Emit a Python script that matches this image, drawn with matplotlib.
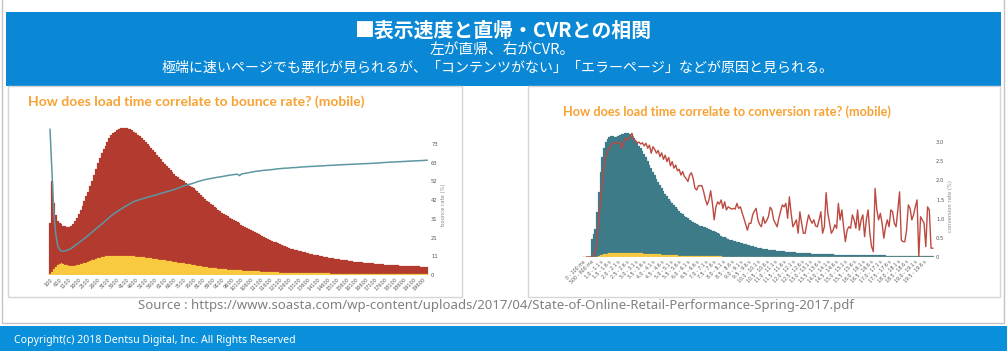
"""
表示速度と直帰・CVRとの相関 (スライド再現)
"""
import numpy as np
import matplotlib
matplotlib.use("Agg")
import matplotlib.pyplot as plt
from matplotlib.patches import Rectangle

W, H = 1007, 355
JP = ['Noto Sans CJK JP', 'DejaVu Sans']

# ---- 左: 直帰率 (100ms 刻み, 100 .. 19800 ms) ----
left_ms = list(range(100, 19900, 100))
left_sessions = [
    52, 94, 72, 60, 54, 52, 51, 49.5, 49, 48.5,
    48.5, 49.5, 51.5, 54, 57.5, 61.5, 65, 69, 74, 79,
    83.5, 89, 94.5, 100, 106, 112, 117.5, 122, 126, 129.5,
    133.5, 137, 140, 142, 143.5, 145, 146, 146.8, 147.2, 147.3,
    147, 146.5, 145.7, 144.7, 143.5, 142, 140.5, 139, 137.2, 135.5,
    133.5, 131.3, 129, 127, 125, 122.7, 120.5, 118, 115.8, 113.5,
    111.3, 109, 106.8, 104.7, 102.8, 101, 99.3, 97.8, 96.4, 95,
    93.8, 92.5, 91, 89.5, 88.3, 87, 85.5, 84, 82, 80,
    78, 76, 74.5, 73, 71.5, 70, 68.5, 67, 65.5, 64,
    62.5, 61.3, 60, 58.8, 57.5, 56.3, 55.2, 54, 52.8, 51.7,
    50.5, 49.3, 48.2, 47, 46, 44.8, 43.8, 42.7, 41.7, 40.7,
    39.8, 38.8, 37.9, 37, 36, 35.2, 34.2, 33.4, 32.6, 31.8,
    31, 30.2, 29.4, 28.6, 27.8, 27, 26.4, 25.8, 25.3, 24.8,
    24.3, 23.8, 23.3, 22.8, 22.3, 21.8, 21.4, 21, 20.5, 20.1,
    19.6, 19.2, 18.7, 18.3, 18, 17.7, 17.4, 17.1, 16.8, 16.5,
    16.2, 15.8, 15.5, 15.2, 15, 14.7, 14.4, 14.1, 13.8, 13.5,
    13.3, 13.1, 12.9, 12.7, 12.5, 12.3, 12.1, 11.9, 11.7, 11.6,
    11.4, 11.2, 11, 10.8, 10.6, 10.4, 10.2, 10, 9.9, 9.8,
    9.7, 9.7, 9.6, 9.5, 9.5, 9.4, 9.3, 9.2, 9.1, 9,
    8.9, 8.8, 8.7, 8.6, 8.5, 8.5, 8.4, 8.3,
]
left_bounced = [
    1, 3, 6, 8, 10, 11.5, 11.7, 11, 10.3, 9.8,
    9.5, 9.3, 9.3, 9.5, 9.8, 10.2, 10.6, 11.2, 11.8, 12.5,
    13.2, 14, 14.8, 15.5, 16.2, 16.8, 17.4, 17.9, 18.3, 18.7,
    19, 19.2, 19.3, 19.4, 19.4, 19.4, 19.4, 19.3, 19.3, 19.2,
    19.1, 19, 18.9, 18.7, 18.6, 18.4, 18.2, 18, 17.8, 17.6,
    17.4, 17.1, 16.9, 16.6, 16.4, 16.1, 15.8, 15.5, 15.2, 14.9,
    14.6, 14.3, 14, 13.7, 13.4, 13.1, 12.8, 12.5, 12.2, 11.9,
    11.6, 11.3, 11, 10.7, 10.4, 10.1, 9.8, 9.4, 9, 8.7,
    8.4, 8.1, 7.8, 7.5, 7.2, 7, 6.8, 6.6, 6.4, 6.2,
    6, 5.8, 5.6, 5.4, 5.3, 5.1, 5, 4.9, 4.8, 4.7,
    4.6, 4.4, 4.3, 4.2, 4.1, 4, 3.9, 3.8, 3.7, 3.6,
    3.5, 3.4, 3.3, 3.2, 3.1, 3, 2.9, 2.8, 2.7, 2.6,
    2.5, 2.5, 2.4, 2.4, 2.3, 2.3, 2.2, 2.2, 2.1, 2.1,
    2.0, 2.0, 1.9, 1.9, 1.9, 1.8, 1.8, 1.8, 1.8, 1.7,
    1.7, 1.7, 1.7, 1.6, 1.6, 1.6, 1.6, 1.5, 1.5, 1.5,
    1.5, 1.4, 1.4, 1.4, 1.4, 1.3, 1.3, 1.3, 1.3, 1.2,
    1.2, 1.2, 1.2, 1.2, 1.1, 1.1, 1.1, 1.1, 1.1, 1.0,
    1.0, 1.0, 1.0, 1.0, 1.0, 0.9, 0.9, 0.9, 0.9, 0.9,
    0.9, 0.9, 0.8, 0.8, 0.8, 0.8, 0.8, 0.8, 0.8, 0.8,
    0.7, 0.7, 0.7, 0.7, 0.7, 0.7, 0.7, 0.7,
]
bounce_rate = [
    81.5, 58, 35, 23, 16.5, 14.2, 13.4, 13.3, 13.5, 13.9,
    14.3, 14.8, 15.6, 16.5, 17.2, 17.9, 18.8, 19.6, 20.4, 21.3,
    22.2, 23.1, 24.0, 24.9, 25.8, 26.7, 27.6, 28.5, 29.4, 30.4,
    31.3, 32.2, 33.1, 34.0, 34.7, 35.4, 36.1, 36.8, 37.5, 38.2,
    38.8, 39.4, 40.0, 40.6, 41.1, 41.5, 41.9, 42.2, 42.6, 42.9,
    43.2, 43.5, 43.8, 44.1, 44.4, 44.7, 45.0, 45.3, 45.7, 46.0,
    46.3, 46.6, 46.9, 47.2, 47.5, 47.9, 48.3, 48.7, 49.1, 49.5,
    49.9, 50.2, 50.5, 50.8, 51.1, 51.4, 51.8, 52.2, 52.5, 52.8,
    53.1, 53.4, 53.6, 53.8, 54.0, 54.2, 54.4, 54.6, 54.8, 54.9,
    55.1, 55.3, 55.5, 55.7, 55.9, 56.0, 56.2, 56.3, 56.4, 55.6,
    56.5, 56.7, 56.9, 57.1, 57.3, 57.5, 57.7, 57.9, 58.1, 58.2,
    58.3, 58.5, 58.6, 58.7, 58.8, 58.9, 59.0, 59.1, 59.3, 59.4,
    59.5, 59.6, 59.7, 59.8, 59.8, 59.9, 60.0, 60.1, 60.1, 60.2,
    60.3, 60.4, 60.5, 60.5, 60.6, 60.7, 60.7, 60.8, 60.8, 60.9,
    61.0, 61.0, 61.1, 61.1, 61.2, 61.3, 61.3, 61.4, 61.4, 61.5,
    61.6, 61.6, 61.7, 61.7, 61.8, 61.8, 61.9, 61.9, 62.0, 62.0,
    62.1, 62.1, 62.2, 62.2, 62.3, 62.3, 62.4, 62.4, 62.5, 62.5,
    62.6, 62.7, 62.7, 62.8, 62.9, 63.0, 63.0, 63.1, 63.2, 63.2,
    63.3, 63.3, 63.4, 63.4, 63.5, 63.5, 63.6, 63.7, 63.7, 63.8,
    63.8, 63.9, 63.9, 64.0, 64.0, 64.1, 64.2, 64.2,
]
bounce_tick_labels = ['0', '11', '21', '31', '42', '52', '63', '73']
bounce_tick_step = 10.47

# ---- 右: コンバージョン率 (100ms 刻み, 0 .. 20.1 s) ----
right_start_ms = list(range(0, 20100, 100))
right_sessions = [
    0, 0, 0, 0, 0.5, 18, 23, 28, 45, 65,
    85, 100, 109, 115, 118, 120, 120.5, 120.5, 120.3, 120,
    121, 122, 122.8, 123.3, 123.8, 124, 123.6, 122.5, 120.5, 118.5,
    116, 113.5, 111, 108.5, 106, 103, 99.5, 96, 92.5, 89,
    85.5, 82, 78.5, 75, 72, 69, 66, 63.5, 61, 58.5,
    56, 54, 52, 50, 48, 46.2, 44.5, 43, 41.5, 40,
    38.7, 37.5, 36.3, 35.2, 34, 33, 32, 31.3, 30.7, 30.2,
    29.7, 29.2, 28.3, 27.4, 26.5, 25.6, 24.8, 23.7, 22.6, 21.5,
    20.4, 19.6, 18.9, 18.2, 17.5, 16.9, 16.3, 15.7, 15.1, 14.6,
    14.1, 13.6, 13.1, 12.6, 12.1, 11.7, 11.2, 10.7, 10.2, 9.7,
    9.3, 9, 8.7, 8.4, 8.1, 7.8, 7.5, 7.2, 7, 6.8,
    6.6, 6.4, 6.2, 6, 5.8, 5.6, 5.4, 5.2, 5, 4.8,
    4.7, 4.6, 4.5, 4.4, 4.3, 4.2, 4.1, 4, 3.9, 3.8,
    3.6, 3.5, 3.4, 3.3, 3.2, 3.1, 3.1, 3, 2.9, 2.9,
    2.8, 2.7, 2.7, 2.6, 2.5, 2.5, 2.4, 2.3, 2.3, 2.3,
    2.2, 2.2, 2.2, 2.1, 2.1, 2.1, 2, 2, 2, 2,
    1.9, 1.9, 1.9, 1.8, 1.8, 1.8, 1.7, 1.7, 1.7, 1.7,
    1.6, 1.6, 1.6, 1.6, 1.5, 1.5, 1.5, 1.5, 1.4, 1.4,
    1.4, 1.4, 1.3, 1.3, 1.3, 1.3, 1.3, 1.2, 1.2, 1.2,
    1.2, 1.2, 1.1, 1.1, 1.1, 1.1, 1.1, 1, 1, 1, 1,
]
right_converted = [
    0, 0, 0, 0, 0, 0, 0, 0, 0.5, 1,
    1.7, 2.3, 2.8, 3.2, 3.5, 3.7, 3.8, 3.9, 4, 4,
    4.1, 4.1, 4.2, 4.2, 4.2, 4.2, 4.1, 4.1, 4, 4,
    3.9, 3.9, 3.8, 3.7, 3.6, 3.5, 3.4, 3.3, 3.2, 3.1,
    3, 2.9, 2.8, 2.7, 2.6, 2.5, 2.4, 2.3, 2.2, 2.1,
    2, 1.9, 1.8, 1.7, 1.6, 1.5, 1.4, 1.3, 1.3, 1.2,
    1.2, 1.1, 1.1, 1, 1, 0.9, 0.9, 0.9, 0.8, 0.8,
    0.8, 0.7, 0.7, 0.7, 0.7, 0.6, 0.6, 0.6, 0.6, 0.6,
    0.5, 0.5, 0.5, 0.5, 0.5, 0.5, 0.5, 0.5, 0.5, 0.5,
    0.5, 0.5, 0.5, 0.5, 0.5, 0.5, 0.5, 0.5, 0.5, 0.5,
    0.4, 0.4, 0.4, 0.4, 0.4, 0.4, 0.4, 0.4, 0.4, 0.4,
    0.4, 0.4, 0.4, 0.4, 0.4, 0.4, 0.4, 0.4, 0.4, 0.4,
    0.4, 0.4, 0.4, 0.4, 0.4, 0.4, 0.4, 0.4, 0.4, 0.4,
    0.3, 0.3, 0.3, 0.3, 0.3, 0.3, 0.3, 0.3, 0.3, 0.3,
    0.3, 0.3, 0.3, 0.3, 0.3, 0.3, 0.3, 0.3, 0.3, 0.3,
    0.3, 0.3, 0.3, 0.3, 0.3, 0.3, 0.3, 0.3, 0.3, 0.3,
    0.3, 0.3, 0.3, 0.3, 0.3, 0.3, 0.3, 0.3, 0.3, 0.3,
    0.3, 0.3, 0.3, 0.3, 0.3, 0.3, 0.3, 0.3, 0.3, 0.3,
    0.3, 0.3, 0.3, 0.3, 0.3, 0.3, 0.3, 0.3, 0.3, 0.3,
    0.3, 0.3, 0.3, 0.3, 0.3, 0.3, 0.3, 0.3, 0.3, 0.3, 0.3,
]
conversion_rate = [
    np.nan, np.nan, 0, 0, 0, 0, 0.05, 0.12, 0.45, 0.95,
    1.45, 1.9, 2.35, 2.62, 2.76, 2.85, 2.92, 2.97, 2.98, 2.97,
    2.98, 3.0, 2.84, 2.95, 3.1, 3.06, 3.1, 3.14, 3.23, 3.07,
    3.04, 2.98, 3.0, 2.95, 2.98, 2.9, 2.97, 2.84, 2.92, 2.71,
    2.88, 2.81, 2.71, 2.78, 2.62, 2.72, 2.55, 2.66, 2.49, 2.6,
    2.38, 2.49, 2.32, 2.4, 2.25, 2.29, 2.14, 2.23, 2.1, 2.05,
    1.97, 2.14, 2.2, 2.05, 1.8, 1.75, 1.86, 1.86, 1.86, 1.7,
    1.5, 1.36, 1.49, 1.73, 1.4, 0.97, 1.31, 1.44, 1.38, 1.49,
    1.27, 1.44, 1.23, 1.31, 1.28, 1.25, 1.27, 1.25, 1.4, 1.27,
    1.31, 1.15, 1.01, 0.85, 0.7, 0.88, 0.88, 1.1, 1.2, 1.27,
    0.97, 0.85, 0.79, 1.05, 0.88, 0.95, 1.05, 1.3, 1.23, 0.97,
    0.88, 0.79, 1.01, 1.2, 1.36, 1.31, 1.4, 1.01, 1.57, 1.14,
    0.79, 0.88, 0.97, 0.62, 1.18, 0.88, 0.62, 0.62, 0.88, 1.1,
    0.97, 0.88, 0.97, 0.81, 0.79, 0.97, 1.18, 0.62, 0.79, 1.68,
    1.14, 0.88, 0.62, 0.7, 0.84, 0.75, 1.4, 0.97, 1.23, 0.79,
    0.4, 0.7, 0.79, 0.75, 1.1, 0.97, 0.75, 1.23, 0.7, 0.97,
    1.1, 0.53, 0.97, 1.23, 0.62, 0.27, 0.14, 1.79, 1.23, 0.97,
    1.14, 0.88, 0.49, 0.79, 0.97, 0.79, 1.23, 1.18, 0.88, 0.79,
    1.23, 1.7, 0.44, 0.4, 0.4, 0.7, 1.36, 1.27, 0.97, 1.1,
    1.31, 1.49, 0, 1.05, 0.97, 0.88, 0.27, 1.31, 1.23, 0.23, 0.23,
]
cvr_ticks = [0, 0.5, 1.0, 1.5, 2.0, 2.5, 3.0]
cvr_tick_labels = ['0', '0.5', '1.0', '1.5', '2.0', '2.5', '3.0']

# 色
BLUE = '#0a88d6'
ORANGE = '#f7a233'
RED = '#b23a2f'
YELLOW = '#f9c940'
TEAL_LINE = '#5d97a4'
TEAL_BAR = '#3e7b88'
RED_LINE = '#bc4a41'
GRID_GRAY = '#cfcfcf'
TICK_GRAY = '#555555'


def px_axes(fig, x0, y0, x1, y1):
    """ピクセル座標 (左上原点) で axes を作る"""
    return fig.add_axes([x0 / W, 1 - y1 / H, (x1 - x0) / W, (y1 - y0) / H])


def strip(ax):
    for s in ax.spines.values():
        s.set_visible(False)


fig = plt.figure(figsize=(W / 100, H / 100), dpi=100)
fig.patch.set_facecolor('white')

# ---- 背景 (スライド枠・バナー・パネル) ----
bg = px_axes(fig, 0, 0, W, H)
bg.set_xlim(0, W)
bg.set_ylim(H, 0)
bg.axis('off')
bg.add_patch(Rectangle((1.5, -2), 1002.5, 325, fill=False, ec='#c4c4c4', lw=1))
bg.add_patch(Rectangle((6, 12), 995, 74, color=BLUE, lw=0))
bg.add_patch(Rectangle((8, 86), 454, 211, fc='white', ec='#d6d6d6', lw=1))
bg.add_patch(Rectangle((528, 86), 472, 211, fc='white', ec='#d6d6d6', lw=1))
bg.add_patch(Rectangle((0, 326), W, 25, color='#0a90db', lw=0))

bg.text(503, 30, '■表示速度と直帰・CVRとの相関', color='white', fontsize=14.3,
        fontweight='bold', family=JP, ha='center', va='center')
bg.text(502, 50, '左が直帰、右がCVR。', color='white', fontsize=10.6,
        family=JP, ha='center', va='center')
bg.text(498, 68, '極端に速いページでも悪化が見られるが、「コンテンツがない」「エラーページ」などが原因と見られる。',
        color='white', fontsize=10.05, family=JP, ha='center', va='center')
bg.text(28, 102, 'How does load time correlate to bounce rate? (mobile)',
        color=ORANGE, fontsize=10, fontweight='bold', family='Lato', va='center')
bg.text(563, 112, 'How does load time correlate to conversion rate? (mobile)',
        color=ORANGE, fontsize=9.2, fontweight='bold', family='Lato', va='center')
bg.text(496, 306, 'Source : https://www.soasta.com/wp-content/uploads/2017/04/State-of-Online-Retail-Performance-Spring-2017.pdf',
        color='#808080', fontsize=9.5, family='Noto Sans', ha='center', va='center')
bg.text(14, 340, 'Copyright(c) 2018 Dentsu Digital, Inc. All Rights Reserved',
        color='white', fontsize=7.6, family='Noto Sans', va='center')

# ---- 左グラフ ----
axL = px_axes(fig, 42, 126, 429, 275)
xL = np.arange(len(left_ms))
axL.bar(xL, left_sessions, width=1.0, color=RED, ec=RED, lw=0.15)
axL.bar(xL, left_bounced, width=1.0, color=YELLOW, ec=YELLOW, lw=0.15)
axL.axhline(0, color=GRID_GRAY, lw=0.8)
axL.set_xlim((42 - 50) / 1.914, (429 - 50) / 1.914)
axL.set_ylim(0, 149)
axL.set_yticks([])
axL.set_xticks(xL[::5])
axL.set_xticklabels([str(m) for m in left_ms[::5]], rotation=45, ha='right',
                    rotation_mode='anchor', fontsize=3.6, color=TICK_GRAY)
axL.tick_params(axis='x', length=0, pad=1.5)
strip(axL)

axL2 = axL.twinx()
axL2.plot(xL, bounce_rate, color=TEAL_LINE, lw=1.1)
axL2.set_ylim(0, 149 / 1.787)
axL2.set_yticks([k * bounce_tick_step for k in range(len(bounce_tick_labels))])
axL2.set_yticklabels(bounce_tick_labels, fontsize=3.8, color=TICK_GRAY)
axL2.tick_params(axis='y', length=0, pad=1.5)
axL2.set_ylabel('bounce rate (%)', fontsize=3.8, color='#888888')
axL2.yaxis.set_label_coords(1.03, 0.47)
strip(axL2)

# ---- 右グラフ ----
axR = px_axes(fig, 572, 130, 934, 257)
xR = np.arange(len(right_start_ms))
axR.bar(xR, right_sessions, width=1.0, color=TEAL_BAR, ec=TEAL_BAR, lw=0.15)
axR.bar(xR, right_converted, width=1.0, color=YELLOW, ec=YELLOW, lw=0.15)
axR.axhline(0, color=GRID_GRAY, lw=0.8)
axR.set_xlim((572 - 583) / 1.749, (934 - 583) / 1.749)
axR.set_ylim(0, 127)
axR.set_yticks([])


def bin_label(ms):
    if ms < 1000:
        return f'{ms} - {ms + 100} ms'
    return f'{ms / 1000:.1f} - {(ms + 100) / 1000:.1f} s'


axR.set_xticks(xR[:196:5])
axR.set_xticklabels([bin_label(m) for m in right_start_ms[:196:5]], rotation=45,
                    ha='right', rotation_mode='anchor', fontsize=3.4, color=TICK_GRAY)
axR.tick_params(axis='x', length=0, pad=1.5)
strip(axR)

axR2 = axR.twinx()
axR2.plot(xR, conversion_rate, color=RED_LINE, lw=1.0)
axR2.set_ylim(0, 127 / 38.3)
axR2.set_yticks(cvr_ticks)
axR2.set_yticklabels(cvr_tick_labels, fontsize=3.8, color=TICK_GRAY)
axR2.tick_params(axis='y', length=0, pad=1.5)
axR2.set_ylabel('conversion rate (%)', fontsize=3.8, color='#888888')
axR2.yaxis.set_label_coords(1.04, 0.4)
strip(axR2)

fig.savefig('out.png', dpi=100, facecolor='white')
